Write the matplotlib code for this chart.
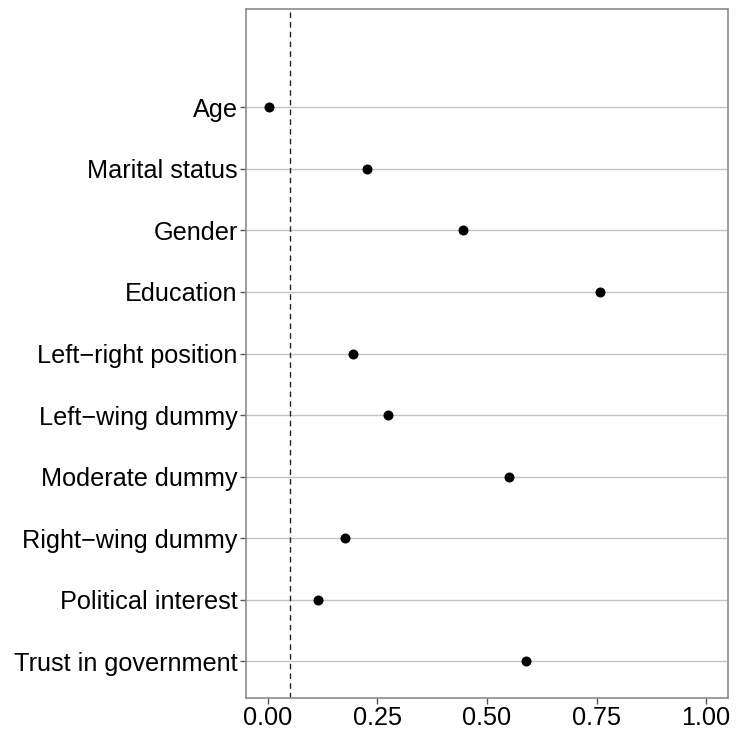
import matplotlib.pyplot as plt

labels = ["Age", "Marital status", "Gender", "Education", "Left\u2212right position",
          "Left\u2212wing dummy", "Moderate dummy", "Right\u2212wing dummy",
          "Political interest", "Trust in government"]
values = [0.003, 0.225, 0.445, 0.757, 0.195, 0.273, 0.551, 0.177, 0.115, 0.588]
xticks = [0.00, 0.25, 0.50, 0.75, 1.00]
xticklabels = ["0.00", "0.25", "0.50", "0.75", "1.00"]
cutoff = 0.05

plt.rcParams['font.family'] = ['Liberation Sans', 'DejaVu Sans']

fig = plt.figure(figsize=(7.37, 7.34), dpi=100)
ax = fig.add_axes([246 / 737, 36 / 734, 482 / 737, 689 / 734])

n = len(labels)
ypos = [n - i for i in range(n)]

for y in ypos:
    ax.axhline(y, color='#C4C4C4', lw=1.0, zorder=0)
ax.axvline(cutoff, color='#222222', lw=1.0, ls=(0, (4, 3)), zorder=1)
ax.plot(values, ypos, 'o', color='black', ms=6.2, zorder=3)

ax.set_xlim(-0.05, 1.05)
ax.set_ylim(0.4, n + 1.6)
ax.set_yticks(ypos)
ax.set_yticklabels(labels)
ax.set_xticks(xticks)
ax.set_xticklabels(xticklabels)

ax.tick_params(axis='both', colors='#555555', length=4, width=1, labelsize=18.2,
               labelcolor='black')
ax.tick_params(axis='y', pad=2)
ax.tick_params(axis='x', pad=2)
for s in ax.spines.values():
    s.set_color('#8C8C8C')
    s.set_linewidth(1.2)

fig.savefig("out.png", dpi=100)
